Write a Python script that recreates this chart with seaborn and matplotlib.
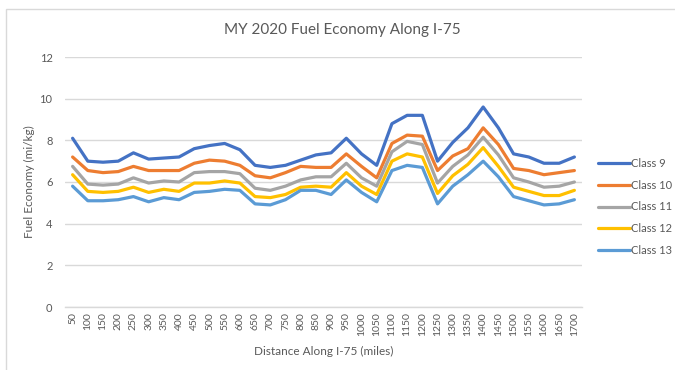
import matplotlib
matplotlib.use("Agg")
import matplotlib.pyplot as plt
import seaborn as sns
import pandas as pd
from matplotlib.lines import Line2D
from matplotlib.patches import Rectangle

distance = [50, 100, 150, 200, 250, 300, 350, 400, 450, 500, 550, 600, 650, 700,
            750, 800, 850, 900, 950, 1000, 1050, 1100, 1150, 1200, 1250, 1300,
            1350, 1400, 1450, 1500, 1550, 1600, 1650, 1700]

class_9 = [8.1, 7.0, 6.95, 7.0, 7.4, 7.1, 7.15, 7.2, 7.6, 7.75, 7.85, 7.55, 6.8, 6.7,
           6.8, 7.05, 7.3, 7.4, 8.1, 7.35, 6.8, 8.8, 9.2, 9.2, 7.0, 7.9,
           8.6, 9.6, 8.6, 7.35, 7.2, 6.9, 6.9, 7.2]
class_10 = [7.2, 6.55, 6.45, 6.5, 6.75, 6.55, 6.55, 6.55, 6.9, 7.05, 7.0, 6.8, 6.3, 6.2,
            6.45, 6.75, 6.7, 6.7, 7.35, 6.75, 6.2, 7.85, 8.25, 8.2, 6.55, 7.25,
            7.6, 8.6, 7.8, 6.65, 6.55, 6.35, 6.45, 6.55]
class_11 = [6.75, 5.9, 5.85, 5.9, 6.2, 5.95, 6.05, 6.0, 6.45, 6.5, 6.5, 6.4, 5.7, 5.6,
            5.8, 6.1, 6.25, 6.25, 6.9, 6.2, 5.8, 7.45, 7.95, 7.8, 5.95, 6.75,
            7.3, 8.15, 7.3, 6.2, 6.0, 5.75, 5.8, 6.0]
class_12 = [6.35, 5.55, 5.5, 5.55, 5.75, 5.5, 5.65, 5.55, 5.95, 5.95, 6.05, 5.95, 5.3, 5.25,
            5.4, 5.75, 5.8, 5.75, 6.45, 5.8, 5.4, 7.0, 7.35, 7.2, 5.45, 6.3,
            6.85, 7.65, 6.75, 5.75, 5.55, 5.35, 5.35, 5.6]
class_13 = [5.8, 5.1, 5.1, 5.15, 5.3, 5.05, 5.25, 5.15, 5.5, 5.55, 5.65, 5.6, 4.95, 4.9,
            5.15, 5.6, 5.6, 5.4, 6.1, 5.5, 5.05, 6.55, 6.8, 6.7, 4.95, 5.8,
            6.35, 7.0, 6.25, 5.3, 5.1, 4.9, 4.95, 5.15]

series_names = ["Class 9", "Class 10", "Class 11", "Class 12", "Class 13"]
series_values = [class_9, class_10, class_11, class_12, class_13]
colors = ["#4472C4", "#ED7D31", "#A5A5A5", "#FFC000", "#5B9BD5"]
y_ticks = [0, 2, 4, 6, 8, 10, 12]

df = pd.concat(
    [pd.DataFrame({"Distance": distance, "Economy": vals, "Class": name})
     for name, vals in zip(series_names, series_values)],
    ignore_index=True,
)

sns.set_theme(style="white")
plt.rcParams["font.family"] = ["Lato", "DejaVu Sans"]
text_color = "#595959"
grid_color = "#D9D9D9"

fig = plt.figure(figsize=(6.75, 3.7), dpi=100)
ax = fig.add_axes([65 / 675, 1 - 307 / 370, (582 - 65) / 675, (307 - 57) / 370])

sns.lineplot(data=df, x="Distance", y="Economy", hue="Class",
             hue_order=series_names, palette=colors, linewidth=2.3,
             legend=False, ax=ax)

ax.set_xlim(distance[0] - 25, distance[-1] + 25)
ax.set_ylim(0, 12)
ax.set_yticks(y_ticks)
ax.set_yticklabels([str(t) for t in y_ticks], fontsize=8, color=text_color)
ax.set_xticks(distance)
ax.set_xticklabels([str(d) for d in distance], rotation=90, fontsize=7.5,
                   color=text_color)
ax.tick_params(axis="both", length=0, pad=4)
ax.tick_params(axis="y", pad=9)
ax.yaxis.grid(True, color=grid_color, linewidth=1)
ax.set_axisbelow(True)
for side in ["top", "right", "left"]:
    ax.spines[side].set_visible(False)
ax.spines["bottom"].set_color(grid_color)
ax.spines["bottom"].set_linewidth(1)

ax.set_xlabel("Distance Along I-75 (miles)", fontsize=8.5, color=text_color,
              labelpad=7)
ax.set_ylabel("Fuel Economy (mi/kg)", fontsize=8.5, color=text_color,
              labelpad=3)

fig.text(342 / 675, 1 - 30 / 370, "MY 2020 Fuel Economy Along I-75",
         ha="center", va="center", fontsize=11, color=text_color)

handles = [Line2D([0], [0], color=c, linewidth=2.3) for c in colors]
fig.legend(handles, series_names, loc="center left",
           bbox_to_anchor=(594 / 675, 1 - 207 / 370), frameon=False,
           fontsize=8, labelcolor=text_color, handlelength=2.8,
           handletextpad=0.1, labelspacing=0.95, borderaxespad=0)

# chart area frame
fig.patches.append(Rectangle((6 / 675, -0.1), 1.1, 1.1 - 9 / 370,
                             transform=fig.transFigure, fill=False,
                             edgecolor="#D9D9D9", linewidth=1))

fig.savefig("out.png", dpi=100)
